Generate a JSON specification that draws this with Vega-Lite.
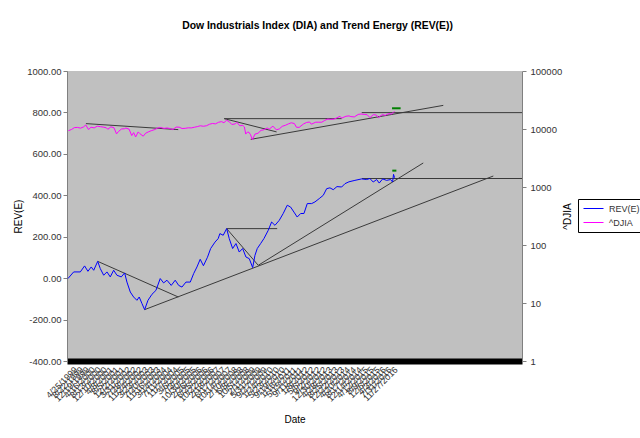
{
  "$schema": "https://vega.github.io/schema/vega-lite/v6.json",
  "description": "Dow Industrials Index (DIA) and Trend Energy (REV(E)), REV(E) on the left axis, ^DJIA on a log right axis, with hand-drawn trend lines.",
  "width": 455,
  "height": 290,
  "autosize": {"type": "none"},
  "padding": {"left": 67, "top": 71, "right": 118, "bottom": 77},
  "background": "white",
  "title": {
    "text": "Dow Industrials Index (DIA) and Trend Energy (REV(E))",
    "fontSize": 10.4,
    "fontWeight": "bold",
    "anchor": "middle",
    "dx": 23,
    "offset": 35,
    "color": "black"
  },
  "datasets": {
    "rev": [
      {"date": "1999-01-20", "value": -2}, {"date": "1999-05-15", "value": 30}, {"date": "1999-09-25", "value": 30},
      {"date": "1999-12-20", "value": 59}, {"date": "2000-02-25", "value": 33}, {"date": "2000-05-01", "value": 54},
      {"date": "2000-06-20", "value": 38}, {"date": "2000-09-08", "value": 81}, {"date": "2000-10-30", "value": 46},
      {"date": "2001-01-06", "value": 14}, {"date": "2001-03-13", "value": 30}, {"date": "2001-05-18", "value": 6},
      {"date": "2001-07-25", "value": 38}, {"date": "2001-09-29", "value": 14}, {"date": "2001-12-25", "value": 6},
      {"date": "2002-03-03", "value": 25}, {"date": "2002-04-18", "value": -19}, {"date": "2002-06-24", "value": -67},
      {"date": "2002-08-30", "value": -91}, {"date": "2002-11-04", "value": -107}, {"date": "2002-12-20", "value": -91},
      {"date": "2003-02-14", "value": -123}, {"date": "2003-04-08", "value": -152}, {"date": "2003-06-14", "value": -107},
      {"date": "2003-09-02", "value": -78}, {"date": "2003-11-21", "value": -59}, {"date": "2004-02-15", "value": -2},
      {"date": "2004-04-23", "value": -23}, {"date": "2004-06-29", "value": -10}, {"date": "2004-09-23", "value": -35},
      {"date": "2004-12-12", "value": -10}, {"date": "2005-02-19", "value": -35}, {"date": "2005-04-26", "value": -43},
      {"date": "2005-07-15", "value": -19}, {"date": "2005-10-10", "value": -19}, {"date": "2005-12-17", "value": 22},
      {"date": "2006-02-21", "value": 54}, {"date": "2006-04-27", "value": 91}, {"date": "2006-07-01", "value": 60},
      {"date": "2006-09-20", "value": 101}, {"date": "2006-11-23", "value": 143}, {"date": "2007-02-18", "value": 174},
      {"date": "2007-04-23", "value": 191}, {"date": "2007-05-27", "value": 215}, {"date": "2007-08-02", "value": 207},
      {"date": "2007-10-10", "value": 239}, {"date": "2007-12-01", "value": 191}, {"date": "2008-02-07", "value": 143},
      {"date": "2008-04-14", "value": 167}, {"date": "2008-06-19", "value": 126}, {"date": "2008-08-26", "value": 143},
      {"date": "2008-10-31", "value": 102}, {"date": "2009-01-06", "value": 94}, {"date": "2009-03-15", "value": 51},
      {"date": "2009-04-30", "value": 110}, {"date": "2009-06-15", "value": 143}, {"date": "2009-08-22", "value": 167},
      {"date": "2009-10-27", "value": 191}, {"date": "2010-01-22", "value": 231}, {"date": "2010-03-30", "value": 271},
      {"date": "2010-06-05", "value": 255}, {"date": "2010-08-30", "value": 279}, {"date": "2010-11-18", "value": 312},
      {"date": "2011-02-07", "value": 352}, {"date": "2011-04-16", "value": 343}, {"date": "2011-06-21", "value": 319},
      {"date": "2011-08-26", "value": 295}, {"date": "2011-11-03", "value": 312}, {"date": "2012-01-08", "value": 312},
      {"date": "2012-03-15", "value": 360}, {"date": "2012-06-11", "value": 360}, {"date": "2012-08-16", "value": 368},
      {"date": "2012-11-10", "value": 384}, {"date": "2013-01-30", "value": 400}, {"date": "2013-04-08", "value": 432},
      {"date": "2013-06-13", "value": 436}, {"date": "2013-08-18", "value": 427}, {"date": "2013-11-01", "value": 442},
      {"date": "2014-02-03", "value": 440}, {"date": "2014-04-10", "value": 456}, {"date": "2014-06-29", "value": 465},
      {"date": "2014-10-27", "value": 472}, {"date": "2015-03-11", "value": 479}, {"date": "2015-06-19", "value": 476},
      {"date": "2015-08-24", "value": 481}, {"date": "2015-10-29", "value": 464}, {"date": "2016-01-06", "value": 476},
      {"date": "2016-02-27", "value": 459}, {"date": "2016-05-05", "value": 479}, {"date": "2016-07-24", "value": 472},
      {"date": "2016-10-12", "value": 476}, {"date": "2016-11-21", "value": 464}, {"date": "2016-12-10", "value": 501},
      {"date": "2016-12-30", "value": 485}
    ],
    "djia": [
      {"date": "1999-01-29", "value": 9359}, {"date": "1999-03-31", "value": 9786}, {"date": "1999-05-28", "value": 10560},
      {"date": "1999-07-30", "value": 10655}, {"date": "1999-09-30", "value": 10337}, {"date": "1999-11-30", "value": 10878},
      {"date": "1999-12-31", "value": 11497}, {"date": "2000-01-14", "value": 11723}, {"date": "2000-03-07", "value": 9796},
      {"date": "2000-04-28", "value": 10734}, {"date": "2000-06-30", "value": 10448}, {"date": "2000-08-31", "value": 11215},
      {"date": "2000-10-31", "value": 10971}, {"date": "2000-12-29", "value": 10787}, {"date": "2001-02-28", "value": 10495},
      {"date": "2001-03-30", "value": 9879}, {"date": "2001-05-31", "value": 10912}, {"date": "2001-07-31", "value": 10523},
      {"date": "2001-09-21", "value": 8236}, {"date": "2001-10-31", "value": 9075}, {"date": "2001-12-31", "value": 10021},
      {"date": "2002-02-28", "value": 10106}, {"date": "2002-03-28", "value": 10404}, {"date": "2002-05-31", "value": 9925},
      {"date": "2002-07-23", "value": 7702}, {"date": "2002-08-30", "value": 8664}, {"date": "2002-10-09", "value": 7286},
      {"date": "2002-11-29", "value": 8896}, {"date": "2002-12-31", "value": 8342}, {"date": "2003-03-11", "value": 7524},
      {"date": "2003-04-30", "value": 8480}, {"date": "2003-06-30", "value": 8985}, {"date": "2003-08-29", "value": 9416},
      {"date": "2003-10-31", "value": 9801}, {"date": "2003-12-31", "value": 10453}, {"date": "2004-02-27", "value": 10583},
      {"date": "2004-04-30", "value": 10226}, {"date": "2004-06-30", "value": 10435}, {"date": "2004-08-31", "value": 10174},
      {"date": "2004-10-25", "value": 9750}, {"date": "2004-12-31", "value": 10783}, {"date": "2005-02-28", "value": 10766},
      {"date": "2005-04-29", "value": 10193}, {"date": "2005-06-30", "value": 10275}, {"date": "2005-08-31", "value": 10481},
      {"date": "2005-10-31", "value": 10440}, {"date": "2005-12-30", "value": 10718}, {"date": "2006-02-28", "value": 10993},
      {"date": "2006-04-28", "value": 11367}, {"date": "2006-06-30", "value": 11150}, {"date": "2006-08-31", "value": 11381},
      {"date": "2006-10-31", "value": 12081}, {"date": "2006-12-29", "value": 12463}, {"date": "2007-02-28", "value": 12268},
      {"date": "2007-04-30", "value": 13063}, {"date": "2007-06-29", "value": 13408}, {"date": "2007-08-16", "value": 12846},
      {"date": "2007-10-09", "value": 14164}, {"date": "2007-11-30", "value": 13372}, {"date": "2008-01-22", "value": 11971},
      {"date": "2008-03-31", "value": 12263}, {"date": "2008-05-02", "value": 13058}, {"date": "2008-06-30", "value": 11350},
      {"date": "2008-08-29", "value": 11544}, {"date": "2008-09-30", "value": 10851}, {"date": "2008-10-27", "value": 8176},
      {"date": "2008-11-28", "value": 8829}, {"date": "2008-12-31", "value": 8776}, {"date": "2009-01-30", "value": 8001},
      {"date": "2009-03-09", "value": 6547}, {"date": "2009-04-30", "value": 8168}, {"date": "2009-06-30", "value": 8447},
      {"date": "2009-08-31", "value": 9496}, {"date": "2009-10-30", "value": 9713}, {"date": "2009-12-31", "value": 10428},
      {"date": "2010-02-08", "value": 9908}, {"date": "2010-04-26", "value": 11205}, {"date": "2010-07-02", "value": 9686},
      {"date": "2010-08-31", "value": 10015}, {"date": "2010-10-29", "value": 11118}, {"date": "2010-12-31", "value": 11578},
      {"date": "2011-02-28", "value": 12226}, {"date": "2011-04-29", "value": 12811}, {"date": "2011-06-30", "value": 12414},
      {"date": "2011-08-10", "value": 10720}, {"date": "2011-10-03", "value": 10655}, {"date": "2011-12-30", "value": 12218},
      {"date": "2012-02-29", "value": 12952}, {"date": "2012-04-30", "value": 13214}, {"date": "2012-06-04", "value": 12101},
      {"date": "2012-08-31", "value": 13091}, {"date": "2012-10-31", "value": 13096}, {"date": "2012-12-31", "value": 13104},
      {"date": "2013-02-28", "value": 14054}, {"date": "2013-04-30", "value": 14840}, {"date": "2013-06-24", "value": 14660},
      {"date": "2013-08-30", "value": 14810}, {"date": "2013-10-31", "value": 15546}, {"date": "2013-12-31", "value": 16577},
      {"date": "2014-02-03", "value": 15373}, {"date": "2014-04-30", "value": 16581}, {"date": "2014-06-30", "value": 16827},
      {"date": "2014-08-07", "value": 16368}, {"date": "2014-10-15", "value": 16141}, {"date": "2014-12-31", "value": 17823},
      {"date": "2015-02-27", "value": 18133}, {"date": "2015-04-30", "value": 17841}, {"date": "2015-06-30", "value": 17620},
      {"date": "2015-08-25", "value": 15666}, {"date": "2015-10-30", "value": 17664}, {"date": "2015-12-31", "value": 17425},
      {"date": "2016-02-11", "value": 15660}, {"date": "2016-04-29", "value": 17774}, {"date": "2016-06-27", "value": 17140},
      {"date": "2016-08-31", "value": 18401}, {"date": "2016-10-31", "value": 18142}, {"date": "2016-11-30", "value": 19124},
      {"date": "2016-12-20", "value": 19974}, {"date": "2016-12-30", "value": 19763}
    ],
    "trends": [
      {"date": "2000-09-08", "end": "2005-02-11", "value": 81, "end_value": -91},
      {"date": "2003-04-08", "end": "2022-06-04", "value": -152, "end_value": 493},
      {"date": "2007-10-10", "end": "2009-07-05", "value": 239, "end_value": 62},
      {"date": "2009-07-05", "end": "2018-07-29", "value": 62, "end_value": 556},
      {"date": "2007-10-10", "end": "2010-07-20", "value": 239, "end_value": 239},
      {"date": "2015-03-17", "end": "2024-01-01", "value": 481, "end_value": 481},
      {"date": "2000-01-16", "end": "2005-02-11", "value": 746, "end_value": 717},
      {"date": "2007-08-22", "end": "2014-02-03", "value": 770, "end_value": 770},
      {"date": "2007-08-22", "end": "2010-07-08", "value": 770, "end_value": 706},
      {"date": "2009-02-03", "end": "2019-09-04", "value": 670, "end_value": 834},
      {"date": "2015-03-13", "end": "2024-01-01", "value": 799, "end_value": 799}
    ],
    "signals": [
      {"date": "2016-11-15", "end": "2017-02-05", "value": 519},
      {"date": "2016-11-10", "end": "2017-05-01", "value": 820}
    ]
  },
  "encoding": {
    "x": {
      "field": "date",
      "type": "temporal",
      "title": "Date",
      "scale": {"domain": [{"year": 1999, "month": 1, "date": 1}, {"year": 2024, "month": 1, "date": 1}]},
      "axis": {
        "tickCount": {"interval": "week", "step": 17},
        "labelExpr": "datum.value > datetime(2016, 11, 31) ? '' : timeFormat(datum.value, '%-m/%-d/%Y')",
        "labelAngle": -45,
        "labelFontSize": 9,
        "labelColor": "#333333",
        "labelPadding": 4,
        "labelOverlap": false,
        "labelFlush": false,
        "ticks": false,
        "grid": false,
        "domainColor": "black",
        "domainWidth": 6,
        "titleY": 58,
        "titleBaseline": "middle",
        "titleFontSize": 10,
        "titleFontWeight": "normal",
        "titleColor": "black"
      }
    }
  },
  "layer": [
    {
      "encoding": {
        "y": {
          "field": "value",
          "type": "quantitative",
          "title": "REV(E)",
          "scale": {"domain": [-400, 1000]},
          "axis": {
            "values": [-400, -200, 0, 200, 400, 600, 800, 1000],
            "labelExpr": "replace(format(datum.value, '.2f'), '\u2212', '-')",
            "labelFontSize": 9.5,
            "labelColor": "#333333",
            "labelPadding": 2,
            "tickSize": 4,
            "tickColor": "#808080",
            "domainColor": "#808080",
            "grid": false,
            "titleX": -49,
            "titleBaseline": "middle",
            "titleFontSize": 10,
            "titleFontWeight": "normal",
            "titleColor": "black"
          }
        }
      },
      "layer": [
        {
          "data": {"name": "trends"},
          "mark": {"type": "rule", "color": "#3a3a3a", "strokeWidth": 1},
          "encoding": {
            "x2": {"field": "end"},
            "y2": {"field": "end_value"}
          }
        },
        {
          "data": {"name": "signals"},
          "mark": {"type": "rule", "color": "#008000", "strokeWidth": 2},
          "encoding": {
            "x2": {"field": "end"}
          }
        },
        {
          "data": {"name": "rev"},
          "mark": {"type": "line", "strokeWidth": 1},
          "encoding": {
            "color": {
              "datum": "REV(E)",
              "scale": {"domain": ["REV(E)", "^DJIA"], "range": ["#0000ff", "#ff00ff"]}
            }
          }
        }
      ]
    },
    {
      "data": {"name": "djia"},
      "mark": {"type": "line", "strokeWidth": 1},
      "encoding": {
        "y": {
          "field": "value",
          "type": "quantitative",
          "title": "^DJIA",
          "scale": {"type": "log", "domain": [1, 100000]},
          "axis": {
            "orient": "right",
            "values": [1, 10, 100, 1000, 10000, 100000],
            "format": "d",
            "labelFontSize": 9.5,
            "labelColor": "#333333",
            "labelPadding": 4,
            "tickSize": 4,
            "tickColor": "#808080",
            "domainColor": "#808080",
            "grid": false,
            "titleAngle": 270,
            "titleX": 45,
            "titleBaseline": "middle",
            "titleFontSize": 10,
            "titleFontWeight": "normal",
            "titleColor": "black"
          }
        },
        "color": {
          "datum": "^DJIA",
          "scale": {"domain": ["REV(E)", "^DJIA"], "range": ["#0000ff", "#ff00ff"]}
        }
      }
    }
  ],
  "resolve": {"scale": {"y": "independent"}},
  "config": {
    "font": "Liberation Sans",
    "view": {"fill": "#c0c0c0", "stroke": null},
    "legend": {
      "orient": "none",
      "legendX": 511,
      "legendY": 128,
      "title": null,
      "strokeColor": "black",
      "padding": 4,
      "symbolType": "M-2,0H2",
      "symbolSize": 100,
      "symbolOffset": 6,
      "symbolStrokeWidth": 1,
      "labelOffset": 10,
      "labelFontSize": 9,
      "labelColor": "#333333",
      "rowPadding": 3
    }
  }
}
